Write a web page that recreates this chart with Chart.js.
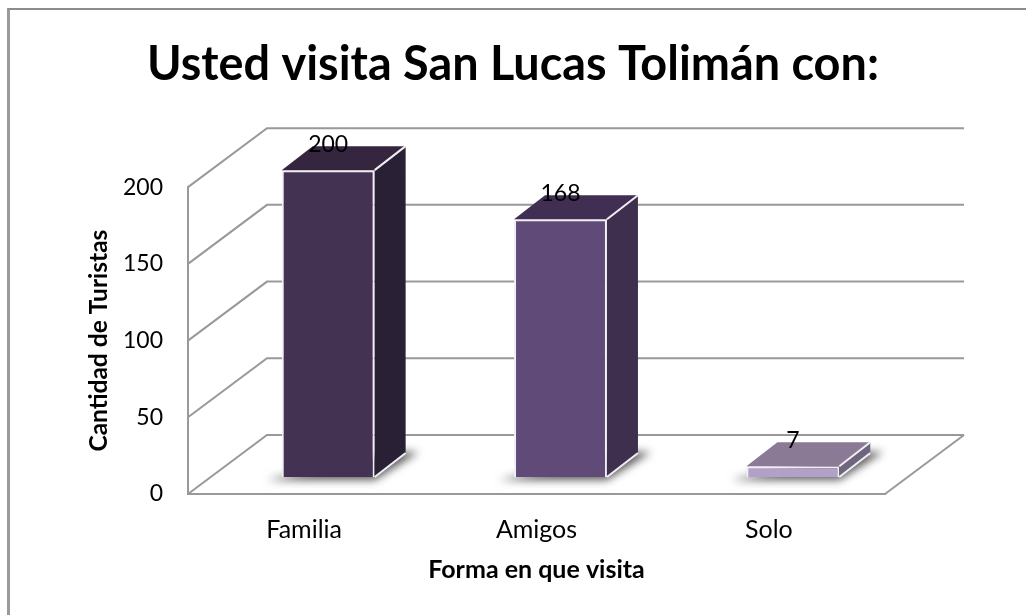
<!DOCTYPE html>
<html lang="es">
<head>
    <meta charset="UTF-8">
    <title>Usted visita San Lucas Tolimán con:</title>
    <style>
        body { margin: 0; background: #fff; overflow: hidden; }
        #marco { position: absolute; left: 7px; top: 8px; right: 0; bottom: 0; border-left: 3px solid #9a9a9a; border-top: 2px solid #8c8c8c; }
        #lienzo { position: absolute; left: 0; top: 0; }
    </style>
</head>
<body>
    <div id="marco"></div>
    <canvas id="lienzo" width="1026" height="615"></canvas>
    <script src="https://cdn.jsdelivr.net/npm/chart.js"></script>
    <script>
        const categorias = ['Familia', 'Amigos', 'Solo'];
        const turistas = [200, 168, 7];
        const marcasY = [0, 50, 100, 150, 200];

        const colorFrente = ['#433252', '#5f4a78', '#b1a0c8'];
        const colorTapa = ['#35253f', '#402f52', '#8a7a96'];
        const colorLado = ['#2a2035', '#3f2f4e', '#70657f'];

        // profundidad de la caja 3D
        const fondoX = 79, fondoY = 59;
        const barraX = 24, barraY = 17;   // la barra se asienta dentro del piso
        const cajaX = 31, cajaY = 24;
        const fuente = 'Lato, "Open Sans", sans-serif';

        function poligono(ctx, puntos, relleno) {
            ctx.beginPath();
            puntos.forEach((p, i) => i ? ctx.lineTo(p[0], p[1]) : ctx.moveTo(p[0], p[1]));
            ctx.closePath();
            ctx.fillStyle = relleno;
            ctx.fill();
        }

        const caja3d = {
            id: 'caja3d',
            // el titulo se centra en todo el lienzo, no en el area con padding
            afterLayout(chart) {
                chart.titleBlock.left = 0;
                chart.titleBlock.right = chart.width;
            },
            // paredes del fondo y sombras debajo de las barras
            beforeDatasetsDraw(chart) {
                const { ctx, scales: { x, y } } = chart;
                ctx.save();
                ctx.strokeStyle = '#999999';
                ctx.lineWidth = 2;
                marcasY.forEach(v => {
                    const py = y.getPixelForValue(v);
                    ctx.beginPath();
                    ctx.moveTo(x.left, py);
                    ctx.lineTo(x.left + fondoX, py - fondoY);
                    ctx.lineTo(x.right + fondoX, py - fondoY);
                    ctx.stroke();
                });
                const piso = y.getPixelForValue(0);
                ctx.beginPath();
                ctx.moveTo(x.right, piso);
                ctx.lineTo(x.right + fondoX, piso - fondoY);
                ctx.stroke();

                ctx.filter = 'blur(4px)';
                chart.getDatasetMeta(0).data.forEach(b => {
                    const x0 = b.x - b.width / 2 + barraX, x1 = b.x + b.width / 2 + barraX;
                    const py = piso - barraY;
                    poligono(ctx, [[x0 - 15, py + 3], [x1, py + 3], [x1 + cajaX + 13, py - cajaY - 1],
                        [x1 + cajaX - 10, py - cajaY - 1]], '#5a5a5a');
                });
                ctx.restore();
            },
            beforeDatasetDraw(chart) {
                chart.ctx.save();
                chart.ctx.translate(barraX, -barraY);
            },
            afterDatasetDraw(chart) {
                const ctx = chart.ctx;
                chart.getDatasetMeta(0).data.forEach((b, i) => {
                    const x0 = b.x - b.width / 2, x1 = b.x + b.width / 2;
                    poligono(ctx, [[x0, b.y], [x0 + cajaX, b.y - cajaY], [x1 + cajaX, b.y - cajaY], [x1, b.y]], colorTapa[i]);
                    poligono(ctx, [[x1, b.y], [x1 + cajaX, b.y - cajaY], [x1 + cajaX, b.base - cajaY], [x1, b.base]], colorLado[i]);
                    ctx.strokeStyle = '#f1eef4';
                    ctx.lineWidth = 2;
                    ctx.beginPath();
                    ctx.moveTo(x1, b.y);
                    ctx.lineTo(x1 + cajaX, b.y - cajaY);
                    ctx.moveTo(x1, b.base);
                    ctx.lineTo(x1 + cajaX, b.base - cajaY);
                    ctx.stroke();
                    ctx.fillStyle = '#000';
                    ctx.font = '23px ' + fuente;
                    ctx.textAlign = 'center';
                    ctx.textBaseline = 'middle';
                    ctx.fillText(turistas[i], b.x, b.y - 26);
                });
                ctx.restore();
            }
        };

        new Chart(document.getElementById('lienzo'), {
            type: 'bar',
            data: {
                labels: categorias,
                datasets: [{
                    data: turistas,
                    backgroundColor: colorFrente,
                    borderColor: '#f1eef4',
                    borderWidth: 2,
                    barPercentage: 0.4,
                    categoryPercentage: 1
                }]
            },
            plugins: [caja3d],
            options: {
                responsive: false,
                animation: false,
                layout: { padding: { left: 84, right: 141, top: 37, bottom: 30 } },
                plugins: {
                    legend: { display: false },
                    tooltip: { enabled: false },
                    title: {
                        display: true,
                        text: 'Usted visita San Lucas Tolimán con:',
                        color: '#000',
                        font: { family: fuente, size: 46.8, weight: 'bold' },
                        padding: { top: 0, bottom: 94 }
                    }
                },
                scales: {
                    x: {
                        afterFit: s => { s.height = 91; },
                        grid: { display: false, drawTicks: false },
                        border: { color: '#999999', width: 2 },
                        ticks: { color: '#000', font: { family: fuente, size: 25 }, padding: 21 },
                        title: {
                            display: true,
                            text: 'Forma en que visita',
                            color: '#000',
                            font: { family: fuente, size: 25, weight: 'bold' },
                            padding: { top: 10, bottom: 0 }
                        }
                    },
                    y: {
                        min: 0,
                        max: 200,
                        afterFit: s => { s.width = 104; },
                        grid: { display: false, drawTicks: false },
                        border: { color: '#999999', width: 2 },
                        afterBuildTicks: s => { s.ticks = marcasY.map(v => ({ value: v })); },
                        ticks: { color: '#000', font: { family: fuente, size: 23 }, padding: 25 },
                        title: {
                            display: true,
                            text: 'Cantidad de Turistas',
                            color: '#000',
                            font: { family: fuente, size: 24.5, weight: 'bold' },
                            padding: { top: 0, bottom: 10 }
                        }
                    }
                }
            }
        });
    </script>
</body>
</html>
